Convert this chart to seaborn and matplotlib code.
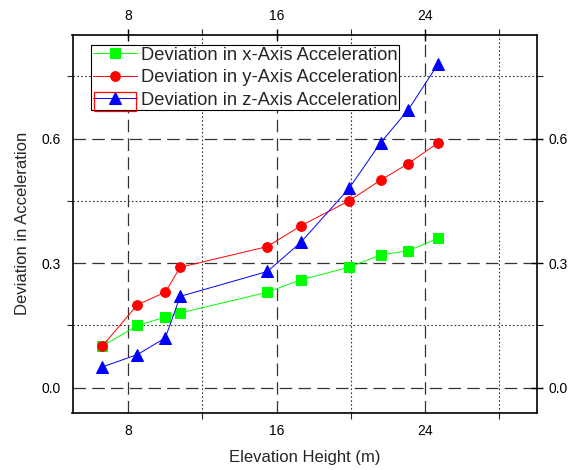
import numpy as np
import pandas as pd
import matplotlib
matplotlib.use("Agg")
import matplotlib.pyplot as plt
import seaborn as sns
from matplotlib.ticker import MultipleLocator
from matplotlib.patches import Rectangle

height = [6.6, 8.5, 10.0, 10.8, 15.5, 17.3, 19.9, 21.6, 23.1, 24.7]
dev_x = [0.10, 0.15, 0.17, 0.18, 0.23, 0.26, 0.29, 0.32, 0.33, 0.36]
dev_y = [0.10, 0.20, 0.23, 0.29, 0.34, 0.39, 0.45, 0.50, 0.54, 0.59]
dev_z = [0.05, 0.08, 0.12, 0.22, 0.28, 0.35, 0.48, 0.59, 0.67, 0.78]
labels = ["Deviation in x-Axis Acceleration",
          "Deviation in y-Axis Acceleration",
          "Deviation in z-Axis Acceleration"]
colors = ["#00ff00", "#ff0000", "#0000ff"]
markers = ["s", "o", "^"]
msizes = [6.5, 7, 8]

sns.set_style("white")
plt.rcParams['font.family'] = ['Liberation Sans', 'DejaVu Sans']

fig = plt.figure(figsize=(5.8, 4.7), dpi=100)
ax = fig.add_axes([0.125, 0.122, 0.80, 0.804])

for vals, lab, c, m, ms in zip([dev_x, dev_y, dev_z], labels, colors, markers, msizes):
    sns.lineplot(x=height, y=vals, ax=ax, color=c, marker=m, markersize=ms,
                 markeredgecolor=c, linewidth=0.7, label=lab, zorder=3)

ax.set_xlim(5, 30)
ax.set_ylim(-0.06, 0.85)
ax.xaxis.set_major_locator(MultipleLocator(8))
ax.xaxis.set_minor_locator(MultipleLocator(4))
ax.yaxis.set_major_locator(MultipleLocator(0.3))
ax.yaxis.set_minor_locator(MultipleLocator(0.15))
ax.yaxis.set_major_formatter(matplotlib.ticker.FormatStrFormatter('%.1f'))

ax.grid(which='major', color='#333333', linestyle=(0, (10, 5)), linewidth=0.9)
ax.grid(which='minor', color='#333333', linestyle=(0, (1.5, 2)), linewidth=0.8)
ax.set_axisbelow(True)

ax.tick_params(which='major', direction='inout', length=9, width=1.0,
               top=True, right=True, labeltop=True, labelright=True,
               labelsize=10, colors='black', pad=4)
ax.tick_params(which='minor', direction='out', length=4, width=0.8,
               top=True, right=True, bottom=True, left=True)
for sp in ax.spines.values():
    sp.set_color('black')
    sp.set_linewidth(1.2)

ax.set_xlabel("Elevation Height (m)", fontsize=12, labelpad=8)
ax.set_ylabel("Deviation in Acceleration", fontsize=12, labelpad=8)

leg = ax.legend(loc='upper left', bbox_to_anchor=(0.04, 0.972), fontsize=13.2,
                frameon=True, fancybox=False, edgecolor='black', framealpha=1,
                borderpad=0.08, labelspacing=0.3, handlelength=2.4,
                handletextpad=0.25, borderaxespad=0)
leg.get_frame().set_linewidth(0.8)

# red selection box around the third legend entry's symbol, as in the original
fig.patches.append(Rectangle((0.162, 0.764), 0.072, 0.041, transform=fig.transFigure,
                             fill=False, edgecolor='red', linewidth=0.9, zorder=10))

fig.savefig("out.png", dpi=100)
